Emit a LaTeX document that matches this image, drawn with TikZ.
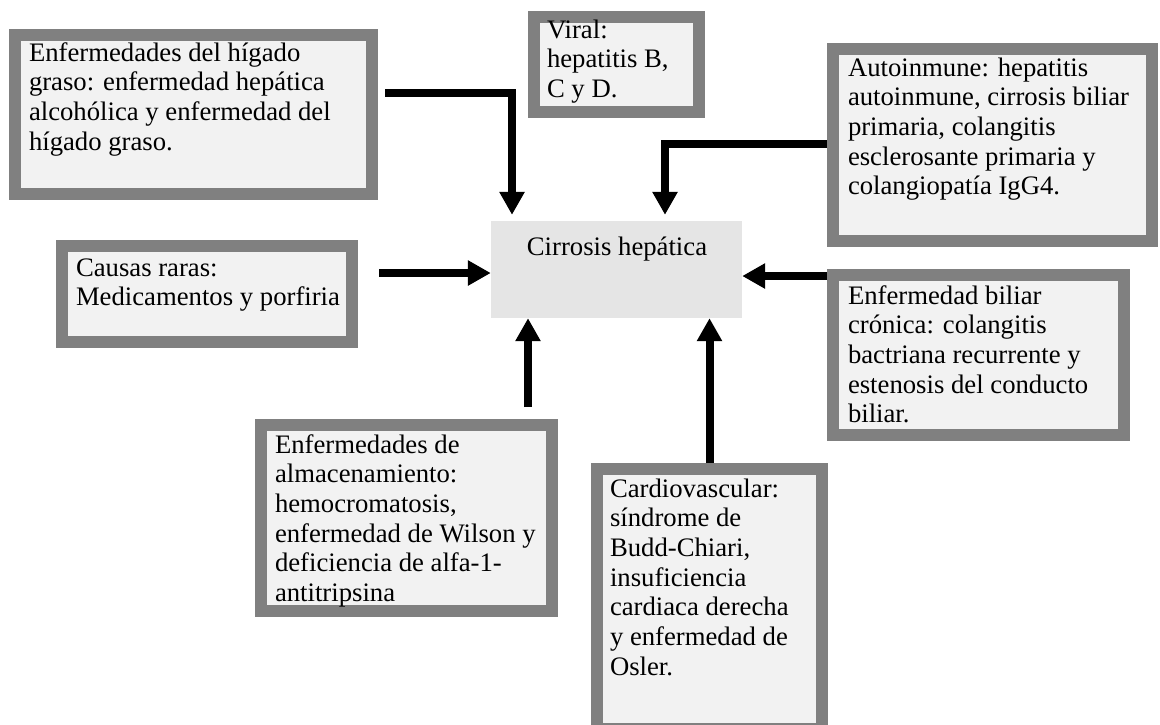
\documentclass[tikz,border=0pt]{standalone}
\usepackage{fontspec}
\setmainfont{Liberation Serif}
\usetikzlibrary{arrows.meta}
\definecolor{boxgray}{HTML}{808080}
\definecolor{boxfill}{HTML}{F2F2F2}
\definecolor{cenfill}{HTML}{E5E5E5}
\begin{document}
\begin{tikzpicture}[x=1pt,y=-1pt,
  box/.style={draw=boxgray,line width=12pt,fill=boxfill,inner sep=0pt,outer sep=6pt},
  txt/.style={inner sep=0pt,outer sep=0pt,align=left,anchor=base west,
    font=\fontsize{26.7pt}{29.7pt}\selectfont},
  arr/.style={line width=8pt,-{Triangle[width=24pt,length=23pt]}}]
\useasboundingbox (0,0) rectangle (1160,724);
\clip (0,0) rectangle (1160,724);
\fill[white] (0,0) rectangle (1160,724);
% boxes
\node[box,minimum width=357pt,minimum height=159pt] (hig) at (193.5,114.5) {};
\node[box,minimum width=165pt,minimum height=95pt] (viral) at (616.5,64.5) {};
\node[box,minimum width=319pt,minimum height=192pt] (auto) at (992.5,145) {};
\node[box,minimum width=290pt,minimum height=96pt] (causas) at (207,294) {};
\node[box,minimum width=291pt,minimum height=160pt] (biliar) at (978.5,355) {};
\node[box,minimum width=291pt,minimum height=186pt] (almac) at (406.5,518) {};
\node[box,minimum width=225pt,minimum height=260pt] (cardio) at (709.5,599) {};
\node[fill=cenfill,inner sep=0pt,minimum width=251pt,minimum height=97pt] (cen) at (616.5,269.5) {};
% texts (anchored at the baseline of their last line)
\node[txt] (thig) at (29,150.1) {Enfermedades del hígado\\graso: enfermedad hepática\\alcohólica y enfermedad del\\hígado graso.};
\node[txt] (tviral) at (547,97.4) {Viral:\\hepatitis B,\\C y D.};
\node[txt] (tauto) at (848,194.8) {Autoinmune: hepatitis\\autoinmune, cirrosis biliar\\primaria, colangitis\\esclerosante primaria y\\colangiopatía IgG4.};
\node[txt] (tcausas) at (76,305.7) {Causas raras:\\Medicamentos y porfiria};
\node[txt] (tbiliar) at (848,422.8) {Enfermedad biliar\\crónica: colangitis\\bactriana recurrente y\\estenosis del conducto\\biliar.};
\node[txt] (talmac) at (275,601.5) {Enfermedades de\\almacenamiento:\\hemocromatosis,\\enfermedad de Wilson y\\deficiencia de alfa-1-\\antitripsina};
\node[txt] (tcardio) at (610,675.2) {Cardiovascular:\\síndrome de\\Budd-Chiari,\\insuficiencia\\cardiaca derecha\\y enfermedad de\\Osler.};
\node[txt,anchor=base] (tcen) at (617,255) {Cirrosis hepática};
% connectors
\coordinate (a1s) at (385,93);
\draw[arr] (a1s) -| ([xshift=-104.5pt,yshift=6pt]cen.north);
\coordinate (a2s) at (827,144);
\draw[arr] (a2s) -| ([xshift=48.5pt,yshift=6pt]cen.north);
\coordinate (a3s) at (827,276);
\draw[arr] (a3s) -- (a3s -| cen.east);
\coordinate (a4s) at (379,273);
\draw[arr] (a4s) -- (a4s -| cen.west);
\coordinate (a5s) at (528,407);
\draw[arr] (a5s) -- (a5s |- cen.south);
\draw[arr] (cardio.north) -- (cardio.north |- cen.south);
\end{tikzpicture}
\end{document}
